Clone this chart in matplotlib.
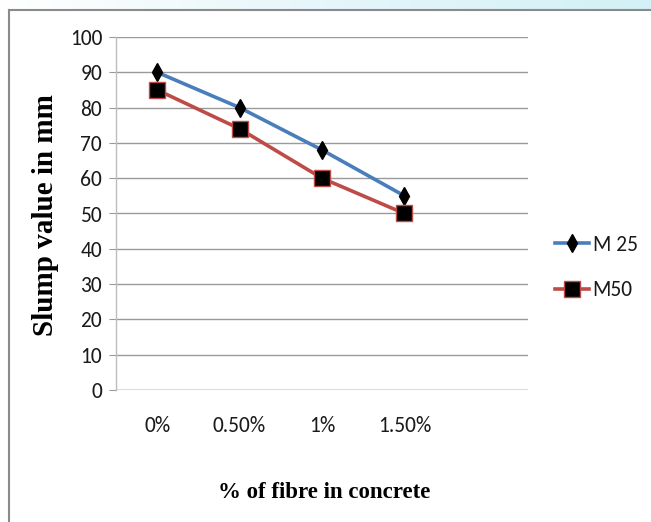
import matplotlib
matplotlib.use("Agg")
import matplotlib.pyplot as plt
from matplotlib.colors import LinearSegmentedColormap
import numpy as np

categories = ["0%", "0.50%", "1%", "1.50%"]
m25 = [90, 80, 68, 55]
m50 = [85, 74, 60, 50]
series_names = ["M 25", "M50"]
yticks = [0, 10, 20, 30, 40, 50, 60, 70, 80, 90, 100]

tick_font = ["Carlito", "DejaVu Sans"]
serif_font = ["Liberation Serif", "DejaVu Serif"]

W, H = 651, 522
fig = plt.figure(figsize=(W / 100, H / 100), dpi=100)

# faint background strip at the top
bg = fig.add_axes([0, 1 - 10 / H, 1, 10 / H])
grad = np.linspace(0, 1, 256)[None, :]
cmap = LinearSegmentedColormap.from_list("c", ["#ffffff", "#e6f6fa", "#d3f1f6"])
bg.imshow(grad, aspect="auto", cmap=cmap, extent=[0, 1, 0, 1])
bg.axis("off")

# outer chart frame
fig.add_artist(plt.Line2D([9 / W, 9 / W], [0, 1 - 10 / H], transform=fig.transFigure,
                          color="#8a8a8a", lw=1.5))
fig.add_artist(plt.Line2D([9 / W, 1], [1 - 10 / H, 1 - 10 / H], transform=fig.transFigure,
                          color="#8a8a8a", lw=1.5))

left, right, top, bottom = 116, 528, 37, 390
ax = fig.add_axes([left / W, 1 - bottom / H, (right - left) / W, (bottom - top) / H])

x = np.arange(len(categories))
ax.set_xlim(-0.5, 4.5)
ax.set_ylim(0, 100)
ax.set_yticks(yticks)
ax.yaxis.grid(True, color="#9a9a9a", lw=1.0)
ax.set_axisbelow(True)
for s in ["top", "right", "bottom"]:
    ax.spines[s].set_visible(False)
ax.spines["left"].set_color("#bdbdbd")
ax.spines["left"].set_linewidth(1.0)
ax.axhline(0, color="#9a9a9a", lw=1.0, zorder=1)

ax.tick_params(axis="y", length=5, color="#9a9a9a", pad=5, labelsize=15.5)
ax.set_xticks(x)
ax.set_xticklabels(categories)
ax.tick_params(axis="x", length=0, pad=19, labelsize=15.5)
for lab in ax.get_xticklabels() + ax.get_yticklabels():
    lab.set_fontfamily(tick_font)
    lab.set_color("#1a1a1a")

ax.plot(x, m25, color="#4a7ebb", lw=2.6, marker="d", markersize=9,
        markerfacecolor="black", markeredgecolor="black", label=series_names[0], zorder=3)
ax.plot(x, m50, color="#be4b48", lw=2.6, marker="s", markersize=11,
        markerfacecolor="black", markeredgecolor="#be4b48", markeredgewidth=1.0,
        label=series_names[1], zorder=3)

leg = fig.legend(loc="center left", bbox_to_anchor=(555 / W, 1 - 267.5 / H),
                 frameon=False, handlelength=1.6, handletextpad=0.15,
                 labelspacing=1.2, borderpad=0, borderaxespad=0,
                 prop={"family": tick_font, "size": 15.5})
for t in leg.get_texts():
    t.set_color("#1a1a1a")

fig.text(46 / W, 1 - 215 / H, "Slump value in mm", rotation=90, ha="center", va="center",
         family=serif_font, weight="bold", fontsize=21)
fig.text(324 / W, 1 - 492 / H, "% of fibre in concrete", ha="center", va="center",
         family=serif_font, weight="bold", fontsize=16.5)

fig.savefig("out.png", dpi=100)
